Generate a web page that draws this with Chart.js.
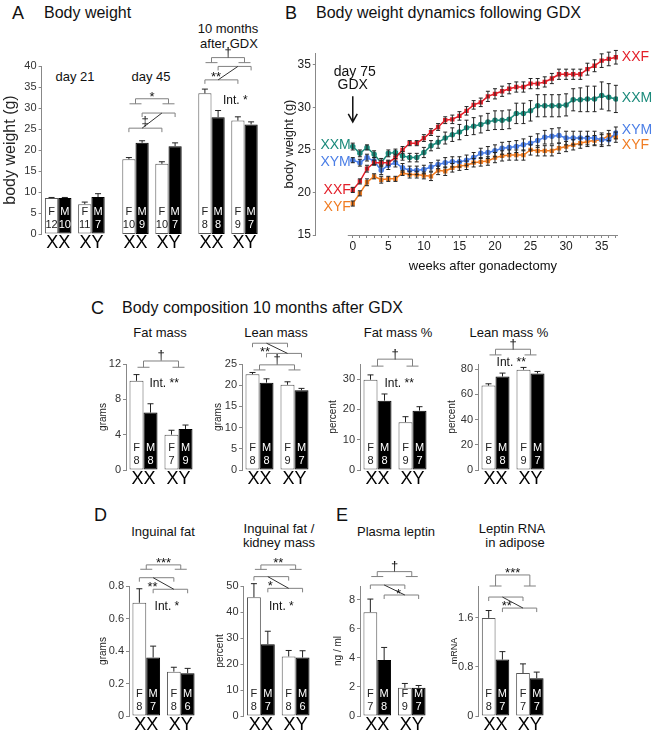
<!DOCTYPE html>
<html>
<head>
<meta charset="utf-8">
<script src="https://cdn.jsdelivr.net/npm/chart.js@4.4.1/dist/chart.umd.min.js"></script>
<style>
  body { margin: 0; background: #fff; width: 652px; height: 734px; position: relative; overflow: hidden;
         font-family: 'Liberation Sans', Arial, Helvetica, sans-serif; }
  canvas { position: absolute; }
  .t { position: absolute; white-space: nowrap; color: #111; line-height: 1; }
</style>
</head>
<body>
<script>
const FONT = "'Liberation Sans', Arial, Helvetica, sans-serif";
Chart.defaults.font.family = FONT;
Chart.defaults.color = '#222';

// ---------- data ----------
const genotypes = ['XX', 'XY'];

// A: body weight (g), values are [XX, XY]
const d21F = [8.6, 7.1],   d21FErr = [0.1, 0.5], d21M = [8.6, 8.8],   d21MErr = [0.1, 0.8];
const d21nF = [12, 11],    d21nM = [10, 7];
const d45F = [17.8, 16.7], d45FErr = [0.4, 0.5], d45M = [21.7, 20.9], d45MErr = [0.5, 0.8];
const d45nF = [10, 10],    d45nM = [9, 7];
const m10F = [33.5, 27.0], m10FErr = [1.0, 0.9], m10M = [27.8, 26.1], m10MErr = [1.6, 0.6];
const m10nF = [8, 9],      m10nM = [8, 7];
const bwTicks = [0, 5, 10, 15, 20, 25, 30, 35, 40];

// B: weekly body weight after gonadectomy
const weeks = [0, 1, 2, 3, 4, 5, 6, 7, 8, 9, 10, 11, 12, 13, 14, 15, 16, 17, 18, 19,
               20, 21, 22, 23, 24, 25, 26, 27, 28, 29, 30, 31, 32, 33, 34, 35, 36, 37];
const xxfMean = [20.3, 21.3, 22.8, 23.5, 23.5, 23.5, 24.1, 25.0, 25.8, 25.8, 26.4, 27.1, 27.7, 28.5, 28.6, 29.0, 29.6, 30.3, 30.6, 31.3,
                 31.6, 31.9, 32.2, 32.4, 32.4, 32.8, 32.8, 33.0, 33.4, 33.9, 33.9, 33.9, 33.9, 34.5, 34.9, 35.5, 35.7, 35.9];
const xxfErr  = [0.3, 0.3, 0.4, 0.3, 0.3, 0.3, 0.4, 0.4, 0.3, 0.3, 0.4, 0.4, 0.4, 0.4, 0.5, 0.5, 0.5, 0.5, 0.5, 0.6,
                 0.6, 0.6, 0.6, 0.6, 0.6, 0.6, 0.6, 0.6, 0.6, 0.6, 0.6, 0.6, 0.6, 0.7, 0.7, 0.8, 0.8, 0.8];
const xxmMean = [25.4, 24.6, 25.3, 24.5, 23.5, 24.6, 24.7, 24.3, 24.1, 24.1, 24.7, 25.5, 25.9, 26.4, 26.8, 27.1, 27.6, 27.8, 28.0, 28.3,
                 28.5, 28.5, 28.6, 29.3, 29.3, 29.6, 30.2, 30.2, 30.2, 30.2, 30.3, 30.9, 30.9, 31.0, 31.0, 31.4, 31.2, 31.0];
const xxmErr  = [0.4, 0.4, 0.3, 0.4, 0.5, 0.4, 0.4, 0.5, 0.5, 0.5, 0.6, 0.6, 0.7, 0.7, 0.8, 0.9, 0.9, 1.0, 1.0, 1.0,
                 1.1, 1.1, 1.1, 1.2, 1.2, 1.2, 1.3, 1.3, 1.3, 1.3, 1.3, 1.3, 1.4, 1.5, 1.5, 1.6, 1.6, 1.6];
const xymMean = [23.8, 23.5, 24.1, 23.7, 22.6, 23.2, 23.5, 22.9, 22.6, 22.6, 22.7, 23.0, 23.3, 23.5, 23.6, 23.6, 23.8, 24.1, 24.6, 24.7,
                 24.9, 25.2, 25.3, 25.4, 25.6, 25.8, 26.1, 26.5, 26.6, 26.7, 26.4, 26.4, 26.4, 26.4, 26.4, 26.2, 26.2, 27.0];
const xymErr  = [0.3, 0.4, 0.4, 0.4, 0.5, 0.5, 0.5, 0.5, 0.5, 0.5, 0.5, 0.5, 0.5, 0.6, 0.6, 0.6, 0.6, 0.6, 0.6, 0.7,
                 0.7, 0.7, 0.7, 0.7, 0.7, 0.8, 0.8, 0.8, 0.9, 0.9, 0.8, 0.8, 0.8, 0.8, 0.8, 0.8, 0.7, 0.7];
const xyfMean = [18.7, 19.9, 21.2, 21.9, 21.5, 21.6, 21.6, 22.3, 22.1, 22.1, 22.0, 21.9, 22.6, 22.5, 22.9, 23.1, 23.2, 23.5, 23.6, 23.7,
                 24.1, 24.3, 24.4, 24.4, 24.4, 25.0, 24.9, 24.9, 24.9, 25.2, 25.4, 25.6, 25.8, 26.0, 26.1, 26.2, 26.7, 26.5];
const xyfErr  = [0.3, 0.3, 0.4, 0.3, 0.4, 0.3, 0.3, 0.3, 0.4, 0.4, 0.4, 0.5, 0.5, 0.5, 0.5, 0.5, 0.5, 0.5, 0.5, 0.5,
                 0.6, 0.6, 0.6, 0.6, 0.6, 0.6, 0.6, 0.6, 0.6, 0.6, 0.6, 0.6, 0.6, 0.6, 0.6, 0.6, 0.6, 0.6];
const dynTicks = [15, 20, 25, 30, 35];

// C: body composition 10 months after GDX
const fatF = [10.1, 4.0],   fatFErr = [0.7, 0.5],   fatM = [6.5, 4.64],   fatMErr = [1.0, 0.45];
const fatnF = [8, 7],       fatnM = [8, 9];
const leanF = [22.6, 20.1], leanFErr = [0.4, 0.7],  leanM = [20.6, 18.8], leanMErr = [0.9, 0.45];
const leannF = [8, 9],      leannM = [8, 7];
const fatPF = [29.8, 15.8], fatPFErr = [1.6, 1.8],  fatPM = [22.9, 19.6], fatPMErr = [2.2, 1.3];
const fatPnF = [8, 9],      fatPnM = [8, 7];
const leanPF = [66.9, 79.5], leanPFErr = [1.4, 1.8], leanPM = [74.1, 76.5], leanPMErr = [2.7, 1.6];
const leanPnF = [8, 9],     leanPnM = [8, 7];
const fatTicks = [0, 4, 8, 12], leanTicks = [0, 5, 10, 15, 20, 25];
const fatPTicks = [0, 10, 20, 30], leanPTicks = [0, 20, 40, 60, 80];

// D: inguinal fat
const ingF = [0.697, 0.273], ingFErr = [0.086, 0.027], ingM = [0.36, 0.263], ingMErr = [0.07, 0.03];
const ingnF = [8, 8],        ingnM = [7, 6];
const kidF = [45.7, 22.9],   kidFErr = [5.2, 2.3],     kidM = [27.6, 22.5],  kidMErr = [5.0, 2.6];
const kidnF = [8, 8],        kidnM = [7, 6];
const ingTicks = [0, 0.2, 0.4, 0.6, 0.8], kidTicks = [0, 10, 20, 30, 40, 50];

// E: leptin
const lepF = [7.15, 1.94], lepFErr = [0.9, 0.3],  lepM = [3.85, 1.94], lepMErr = [0.87, 0.16];
const lepnF = [7, 9],      lepnM = [8, 7];
const rnaF = [1.6, 0.70],  rnaFErr = [0.12, 0.15], rnaM = [0.92, 0.616], rnaMErr = [0.13, 0.1];
const rnanF = [8, 7],      rnanM = [7, 7];
const lepTicks = [0, 2, 4, 6, 8], rnaTicks = [0, 0.8, 1.6];

// ---------- helpers ----------
function addText(s, x, y, size, align) {
  const d = document.createElement('div');
  d.className = 't';
  d.textContent = s;
  d.style.fontSize = size + 'px';
  d.style.top = (y - size * 0.5) + 'px';
  d.style.left = x + 'px';
  if (align === 'center') d.style.transform = 'translateX(-50%)';
  document.body.appendChild(d);
}

// put the visible middle of a short label at yc
function label(ctx, s, x, yc, size) {
  ctx.font = size + 'px ' + FONT;
  ctx.textAlign = 'center';
  ctx.textBaseline = 'alphabetic';
  let k = 0.36;
  if (/^\*+$/.test(s)) k = 0.58;
  else if (/^[†‡]$/.test(s)) k = 0.3;
  ctx.fillText(s, x, yc + k * size);
}

const barDeco = {
  id: 'barDeco',
  afterDatasetsDraw(chart, args, o) {
    const ctx = chart.ctx, ys = chart.scales.y, xs = chart.scales.x;
    const fEl = chart.getDatasetMeta(0).data, mEl = chart.getDatasetMeta(1).data;
    ctx.save();
    ctx.lineWidth = 1;
    chart.data.datasets.forEach((ds, di) => {
      chart.getDatasetMeta(di).data.forEach((el, i) => {
        const top = ys.getPixelForValue(ds.data[i] + ds.err[i]);
        ctx.strokeStyle = '#222';
        ctx.beginPath();
        ctx.moveTo(el.x, el.y); ctx.lineTo(el.x, top);
        ctx.moveTo(el.x - 3, top); ctx.lineTo(el.x + 3, top);
        ctx.stroke();
        ctx.fillStyle = di === 0 ? '#222' : '#fff';
        ctx.font = '11px ' + FONT;
        ctx.textAlign = 'center'; ctx.textBaseline = 'middle';
        ctx.fillText(ds.label, el.x, ys.bottom - 22);
        ctx.fillText(String(ds.n[i]), el.x, ys.bottom - 9);
      });
    });

    ctx.fillStyle = '#111';
    const drop = 4;
    (o.main || []).forEach(b => {
      const xa = (fEl[0].x + mEl[0].x) / 2, xb = (fEl[1].x + mEl[1].x) / 2;
      const yl = ys.getPixelForValue(b.y), yc = ys.getPixelForValue(b.cap);
      ctx.strokeStyle = '#808080';
      ctx.beginPath();
      ctx.moveTo(xa, yc); ctx.lineTo(xa, yl); ctx.lineTo(xb, yl); ctx.lineTo(xb, yc);
      ctx.moveTo(xa - 6, yc); ctx.lineTo(xa + 6, yc);
      ctx.moveTo(xb - 6, yc); ctx.lineTo(xb + 6, yc);
      ctx.stroke();
      label(ctx, b.label, (xa + xb) / 2, yl - 5.5, 13);
    });
    (o.cross || []).forEach(b => {
      const yf = ys.getPixelForValue(b.f), ym = ys.getPixelForValue(b.m);
      ctx.strokeStyle = '#808080';
      ctx.beginPath();
      ctx.moveTo(fEl[0].x, yf + drop); ctx.lineTo(fEl[0].x, yf); ctx.lineTo(fEl[1].x, yf); ctx.lineTo(fEl[1].x, yf + drop);
      ctx.moveTo(mEl[0].x, ym + drop); ctx.lineTo(mEl[0].x, ym); ctx.lineTo(mEl[1].x, ym); ctx.lineTo(mEl[1].x, ym + drop);
      ctx.stroke();
      ctx.strokeStyle = '#333';
      ctx.beginPath();
      ctx.moveTo(mEl[0].x, yf); ctx.lineTo(fEl[1].x, ym);
      ctx.stroke();
      label(ctx, b.label, (mEl[0].x + fEl[1].x) / 2 + b.dx, (yf + ym) / 2, 13);
    });
    (o.notes || []).forEach(n => {
      label(ctx, n.text, xs.getPixelForValue(n.x), ys.getPixelForValue(n.y), 12);
    });
    ctx.restore();
  }
};

function barPanel(p) {
  const showY = p.showY !== false;
  const tSize = p.titleSize || 10;
  const yW = showY ? p.titleDist + 4 + tSize * 0.6 : 0;
  const padT = 40, padR = 4, xH = 30;
  const areaL = p.cx - p.catW / 2;
  const cv = document.createElement('canvas');
  const w = Math.round(yW + 2 * p.catW + padR);
  const h = Math.round(padT + (p.bottom - p.top) + xH);
  cv.width = w; cv.height = h;
  cv.style.width = w + 'px'; cv.style.height = h + 'px';
  cv.style.left = (areaL - yW) + 'px';
  cv.style.top = (p.top - padT) + 'px';
  document.body.appendChild(cv);

  new Chart(cv, {
    type: 'bar',
    data: {
      labels: genotypes,
      datasets: [
        { label: 'F', data: p.f, err: p.fe, n: p.nf, backgroundColor: '#fff', borderColor: '#555',
          borderWidth: 1, borderSkipped: false },
        { label: 'M', data: p.m, err: p.me, n: p.nm, backgroundColor: '#000', borderColor: '#000',
          borderWidth: 1, borderSkipped: false }
      ]
    },
    options: {
      responsive: false, animation: false, devicePixelRatio: 1,
      layout: { padding: { top: padT, right: padR, left: 0, bottom: 0 } },
      datasets: { bar: { categoryPercentage: 0.8, barPercentage: 1 } },
      plugins: {
        legend: { display: false }, tooltip: { enabled: false },
        barDeco: { main: p.main, cross: p.cross, notes: p.notes }
      },
      scales: {
        x: {
          grid: { display: false }, border: { display: false },
          ticks: { color: '#000', font: { size: 18 }, padding: -10 },
          afterFit(s) { s.height = xH; }
        },
        y: {
          display: showY, min: 0, max: p.yMax,
          border: { color: '#888' },
          grid: { drawOnChartArea: false, tickLength: 3, color: '#888' },
          afterBuildTicks(s) { s.ticks = p.ticks.map(v => ({ value: v })); },
          ticks: { font: { size: 11 }, color: '#333', padding: 2, callback: v => String(v) },
          title: { display: true, text: p.yTitle, font: { size: tSize }, color: '#222' },
          afterFit(s) { s.width = yW; }
        }
      }
    },
    plugins: [barDeco]
  });
}

// ---------- panel A ----------
addText('A', 12, 13, 18, 'left');
addText('Body weight', 44, 13, 16, 'left');
addText('day 21', 75, 76, 13, 'center');
addText('day 45', 151, 76, 13, 'center');
addText('10 months', 228, 28, 13, 'center');
addText('after GDX', 229, 43, 13, 'center');

const aBox = { catW: 33.2, top: 66.3, bottom: 234.3, yMax: 40, ticks: bwTicks };
barPanel(Object.assign({}, aBox, { cx: 58.3, yTitle: 'body weight (g)', titleSize: 16, titleDist: 31,
  f: d21F, fe: d21FErr, m: d21M, me: d21MErr, nf: d21nF, nm: d21nM }));
barPanel(Object.assign({}, aBox, { cx: 135.7, showY: false,
  f: d45F, fe: d45FErr, m: d45M, me: d45MErr, nf: d45nF, nm: d45nM,
  main: [{ y: 32.2, cap: 31.0, label: '*' }],
  cross: [{ f: 25.2, m: 28.8, label: '‡', dx: -7 }] }));
barPanel(Object.assign({}, aBox, { cx: 211.5, showY: false,
  f: m10F, fe: m10FErr, m: m10M, me: m10MErr, nf: m10nF, nm: m10nM,
  main: [{ y: 42.0, cap: 40.8, label: '†' }],
  cross: [{ f: 36.7, m: 39.9, label: '**', dx: -12 }],
  notes: [{ text: 'Int. *', x: 0.72, y: 32 }] }));

// ---------- panel B ----------
addText('B', 285, 13, 18, 'left');
addText('Body weight dynamics following GDX', 316, 13, 16, 'left');

const series = [
  { name: 'XXF', mean: xxfMean, err: xxfErr, color: '#e3202a', shape: 'rect', d0: 0, d1: 0 },
  { name: 'XXM', mean: xxmMean, err: xxmErr, color: '#1b8a7b', shape: 'circle', d0: -1, d1: -1 },
  { name: 'XYM', mean: xymMean, err: xymErr, color: '#4a7ee6', shape: 'circle', d0: 2, d1: -3 },
  { name: 'XYF', mean: xyfMean, err: xyfErr, color: '#f07c22', shape: 'rect', d0: 3.5, d1: 8 }
];

const lineDeco = {
  id: 'lineDeco',
  afterDatasetsDraw(chart) {
    const ctx = chart.ctx, xs = chart.scales.x, ys = chart.scales.y;
    ctx.save();
    ctx.lineWidth = 1;
    ctx.strokeStyle = '#888';
    ctx.beginPath();
    ctx.moveTo(xs.getPixelForValue(-0.7), ys.bottom + 0.5);
    ctx.lineTo(xs.getPixelForValue(37.3), ys.bottom + 0.5);
    ctx.stroke();

    ctx.strokeStyle = '#222';
    chart.data.datasets.forEach((ds, di) => {
      chart.getDatasetMeta(di).data.forEach((pt, i) => {
        const m = ds.data[i].y, e = ds.err[i];
        const y1 = ys.getPixelForValue(m - e), y2 = ys.getPixelForValue(m + e);
        ctx.beginPath();
        ctx.moveTo(pt.x, y1); ctx.lineTo(pt.x, y2);
        ctx.moveTo(pt.x - 2, y1); ctx.lineTo(pt.x + 2, y1);
        ctx.moveTo(pt.x - 2, y2); ctx.lineTo(pt.x + 2, y2);
        ctx.stroke();
      });
    });

    ctx.font = '14px ' + FONT;
    ctx.textBaseline = 'middle';
    series.forEach((s, di) => {
      const pts = chart.getDatasetMeta(di).data;
      const first = pts[0], last = pts[pts.length - 1];
      ctx.fillStyle = s.color;
      ctx.textAlign = 'right';
      ctx.fillText(s.name, first.x - 2, first.y + s.d0);
      ctx.textAlign = 'left';
      ctx.fillText(s.name, last.x + 6, last.y + s.d1);
    });

    // GDX marker
    const x0 = xs.getPixelForValue(0);
    ctx.fillStyle = '#111';
    ctx.textAlign = 'center';
    ctx.font = '14px ' + FONT;
    ctx.fillText('day 75', x0 + 2, ys.getPixelForValue(34.2));
    ctx.fillText('GDX', x0, ys.getPixelForValue(32.6));
    const a1 = ys.getPixelForValue(31.3), a2 = ys.getPixelForValue(28.3);
    ctx.strokeStyle = '#111';
    ctx.lineWidth = 1.5;
    ctx.beginPath();
    ctx.moveTo(x0, a1); ctx.lineTo(x0, a2);
    ctx.moveTo(x0 - 4.5, a2 - 8); ctx.lineTo(x0, a2); ctx.lineTo(x0 + 4.5, a2 - 8);
    ctx.stroke();

    ctx.font = '13px ' + FONT;
    ctx.fillStyle = '#111';
    ctx.fillText('weeks after gonadectomy',
      (xs.getPixelForValue(-0.7) + xs.getPixelForValue(37.3)) / 2, ys.bottom + 31);
    ctx.restore();
  }
};

(function () {
  const areaL = 316, areaT = 53, areaB = 235, areaR = 618;
  const yW = 26 + 4 + 13 * 0.6, padT = 10, padR = 652 - areaR, xH = 40;
  const cv = document.createElement('canvas');
  const w = Math.round(yW + (areaR - areaL) + padR), h = Math.round(padT + (areaB - areaT) + xH);
  cv.width = w; cv.height = h;
  cv.style.width = w + 'px'; cv.style.height = h + 'px';
  cv.style.left = (areaL - yW) + 'px'; cv.style.top = (areaT - padT) + 'px';
  document.body.appendChild(cv);

  new Chart(cv, {
    type: 'line',
    data: {
      datasets: series.map(s => ({
        label: s.name,
        data: weeks.map((wk, i) => ({ x: wk, y: s.mean[i] })),
        err: s.err,
        borderColor: s.color, backgroundColor: s.color,
        borderWidth: 1.5, pointRadius: 2, pointStyle: s.shape, tension: 0
      }))
    },
    options: {
      responsive: false, animation: false, devicePixelRatio: 1,
      layout: { padding: { top: padT, right: padR, left: 0, bottom: 0 } },
      plugins: { legend: { display: false }, tooltip: { enabled: false } },
      scales: {
        x: {
          type: 'linear', min: -5.2, max: 37.3,
          border: { display: false },
          grid: { drawOnChartArea: false, tickLength: 3, color: '#888' },
          afterBuildTicks(s) { s.ticks = weeks.map(v => ({ value: v })); },
          ticks: { autoSkip: false, maxRotation: 0, font: { size: 12 }, color: '#222', padding: 1,
                   callback: v => (v % 5 === 0 ? String(v) : '') },
          afterFit(s) { s.height = xH; }
        },
        y: {
          min: 15, max: 36.4,
          border: { color: '#888' },
          grid: { drawOnChartArea: false, tickLength: 3, color: '#888' },
          afterBuildTicks(s) { s.ticks = dynTicks.map(v => ({ value: v })); },
          ticks: { font: { size: 12 }, color: '#222', padding: 2 },
          title: { display: true, text: 'body weight (g)', font: { size: 13 }, color: '#222' },
          afterFit(s) { s.width = yW; }
        }
      }
    },
    plugins: [lineDeco]
  });
})();

// ---------- panel C ----------
addText('C', 91, 308, 18, 'left');
addText('Body composition 10 months after GDX', 122, 308, 16, 'left');
addText('Fat mass', 160, 332, 13, 'center');
addText('Lean mass', 276, 332, 13, 'center');
addText('Fat mass %', 398, 332, 13, 'center');
addText('Lean mass %', 509, 332, 13, 'center');

const cBox = { catW: 35, top: 364, bottom: 469.5 };
barPanel(Object.assign({}, cBox, { cx: 143.3, yMax: 12, ticks: fatTicks, yTitle: 'grams', titleDist: 23,
  f: fatF, fe: fatFErr, m: fatM, me: fatMErr, nf: fatnF, nm: fatnM,
  main: [{ y: 12.34, cap: 11.63, label: '†' }],
  notes: [{ text: 'Int. **', x: 0.59, y: 9.84 }] }));
barPanel(Object.assign({}, cBox, { cx: 259.8, yMax: 25, ticks: leanTicks, yTitle: 'grams', titleDist: 24,
  f: leanF, fe: leanFErr, m: leanM, me: leanMErr, nf: leannF, nm: leannM,
  main: [{ y: 24.8, cap: 23.6, label: '†' }],
  cross: [{ f: 29.9, m: 27.5, label: '**', dx: -12 }] }));
barPanel(Object.assign({}, cBox, { cx: 377.7, yMax: 35, ticks: fatPTicks, yTitle: 'percent', titleDist: 27,
  f: fatPF, fe: fatPFErr, m: fatPM, me: fatPMErr, nf: fatPnF, nm: fatPnM,
  main: [{ y: 36.6, cap: 34.3, label: '†' }],
  notes: [{ text: 'Int. **', x: 0.62, y: 28.8 }] }));
barPanel(Object.assign({}, cBox, { cx: 495.3, yMax: 84, ticks: leanPTicks, yTitle: 'percent', titleDist: 26,
  f: leanPF, fe: leanPFErr, m: leanPM, me: leanPMErr, nf: leanPnF, nm: leanPnM,
  main: [{ y: 95.7, cap: 91.2, label: '†' }],
  notes: [{ text: 'Int. **', x: 0.45, y: 85.8 }] }));

// ---------- panel D ----------
addText('D', 94, 515, 18, 'left');
addText('Inguinal fat', 163, 531, 13, 'center');
addText('Inguinal fat /', 279, 528, 13, 'center');
addText('kidney mass', 279, 542, 13, 'center');

const dBox = { catW: 34.5, top: 586, bottom: 715.7 };
barPanel(Object.assign({}, dBox, { cx: 146.7, yMax: 0.8, ticks: ingTicks, yTitle: 'grams', titleDist: 26,
  f: ingF, fe: ingFErr, m: ingM, me: ingMErr, nf: ingnF, nm: ingnM,
  main: [{ y: 0.93, cap: 0.903, label: '***' }],
  cross: [{ f: 0.851, m: 0.78, label: '**', dx: -11 }],
  notes: [{ text: 'Int. *', x: 0.6, y: 0.677 }] }));
barPanel(Object.assign({}, dBox, { cx: 261, yMax: 50, ticks: kidTicks, yTitle: 'percent', titleDist: 23.5,
  f: kidF, fe: kidFErr, m: kidM, me: kidMErr, nf: kidnF, nm: kidnM,
  main: [{ y: 58.1, cap: 56.4, label: '**' }],
  cross: [{ f: 53.6, m: 49.1, label: '*', dx: -8 }],
  notes: [{ text: 'Int. *', x: 0.59, y: 42.3 }] }));

// ---------- panel E ----------
addText('E', 336, 515, 18, 'left');
addText('Plasma leptin', 396, 531, 13, 'center');
addText('Leptin RNA', 512, 528, 13, 'center');
addText('in adipose', 515, 542, 13, 'center');

barPanel(Object.assign({}, dBox, { cx: 377.5, yMax: 8.95, ticks: lepTicks, yTitle: 'ng / ml', titleDist: 22,
  f: lepF, fe: lepFErr, m: lepM, me: lepMErr, nf: lepnF, nm: lepnM,
  main: [{ y: 9.94, cap: 9.6, label: '†' }],
  cross: [{ f: 9.02, m: 8.33, label: '*', dx: 4 }] }));
barPanel(Object.assign({}, dBox, { cx: 495.5, yMax: 2.12, ticks: rnaTicks, yTitle: 'mRNA', titleSize: 9, titleDist: 24,
  f: rnaF, fe: rnaFErr, m: rnaM, me: rnaMErr, nf: rnanF, nm: rnanM,
  main: [{ y: 2.3, cap: 2.12, label: '***' }],
  cross: [{ f: 1.94, m: 1.76, label: '**', dx: -6 }] }));
</script>
</body>
</html>
